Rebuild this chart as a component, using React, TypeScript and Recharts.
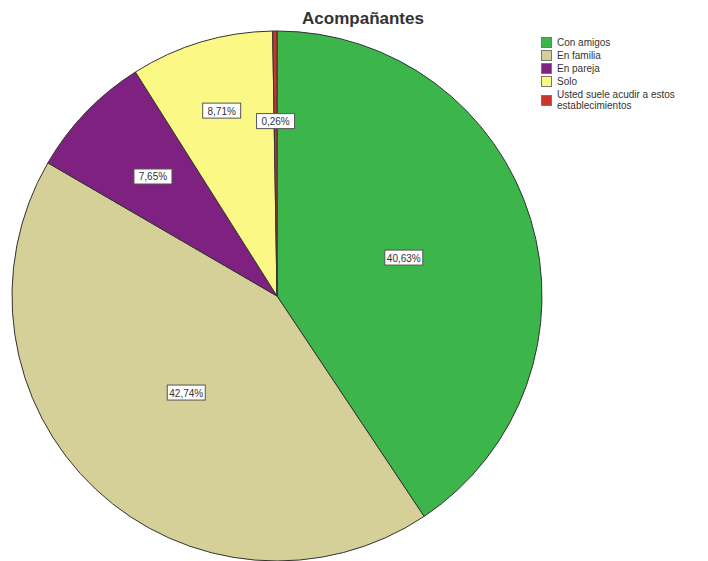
import React from "react";
import { PieChart, Pie, Cell, Legend } from "recharts";

const categories = ["Con amigos", "En familia", "En pareja", "Solo", "Usted suele acudir a estos establecimientos"];
const percentages = [40.63, 42.74, 7.65, 8.71, 0.26];
const colors = ["#3CB54A", "#D5CF98", "#7E2180", "#FBF886", "#C8372B"];
const labelRadius = [0.5, 0.5, 0.65, 0.73, 0.66];

const data = categories.map((name, i) => ({ name, value: percentages[i] }));
const RAD = Math.PI / 180;

const renderLabel = (props: any) => {
  const { cx, cy, midAngle, outerRadius, index, value } = props;
  const r = outerRadius * labelRadius[index];
  const x = cx + r * Math.cos(-midAngle * RAD);
  const y = cy + r * Math.sin(-midAngle * RAD);
  const text = value.toFixed(2).replace(".", ",") + "%";
  const w = 38;
  const h = 15;
  return (
    <g>
      <rect x={x - w / 2} y={y - h / 2} width={w} height={h} fill="#FFFFFF" stroke="#555555" strokeWidth={1} />
      <text x={x} y={y + 4} textAnchor="middle" fontSize={10} fontFamily="Liberation Sans, Arial, sans-serif" fill="#333333">
        {text}
      </text>
    </g>
  );
};

const renderLegend = () => (
  <div style={{ fontFamily: "Liberation Sans, Arial, sans-serif", fontSize: 10, color: "#333333", lineHeight: "11px" }}>
    {data.map((d, i) => (
      <div key={d.name} style={{ display: "flex", alignItems: "center", marginBottom: 2, width: 160 }}>
        <div style={{ width: 9, height: 9, background: colors[i], border: "1px solid #777", flexShrink: 0, marginRight: 5 }} />
        <div>{i === 4 ? (<span>Usted suele acudir a estos<br />establecimientos</span>) : d.name}</div>
      </div>
    ))}
  </div>
);

export default function App() {
  return (
    <div style={{ position: "absolute", left: 0, top: 0, width: 708, height: 561, background: "#FFFFFF" }}>
      <div style={{ position: "absolute", left: 0, top: 9, width: 726, textAlign: "center", fontFamily: "Liberation Sans, Arial, sans-serif", fontWeight: "bold", fontSize: 17, color: "#333333" }}>
        Acompañantes
      </div>
      <PieChart width={708} height={561} margin={{ top: 0, right: 0, bottom: 0, left: 0 }}>
        <Pie
          data={data}
          dataKey="value"
          nameKey="name"
          cx={277}
          cy={296}
          outerRadius={265}
          startAngle={90}
          endAngle={-270}
          stroke="#333333"
          strokeWidth={1}
          label={renderLabel}
          labelLine={false}
          isAnimationActive={false}
        >
          {data.map((d, i) => (
            <Cell key={d.name} fill={colors[i]} />
          ))}
        </Pie>
        <Legend
          content={renderLegend}
          wrapperStyle={{ position: "absolute", left: 541, top: 37, width: 165 }}
        />
      </PieChart>
    </div>
  );
}
